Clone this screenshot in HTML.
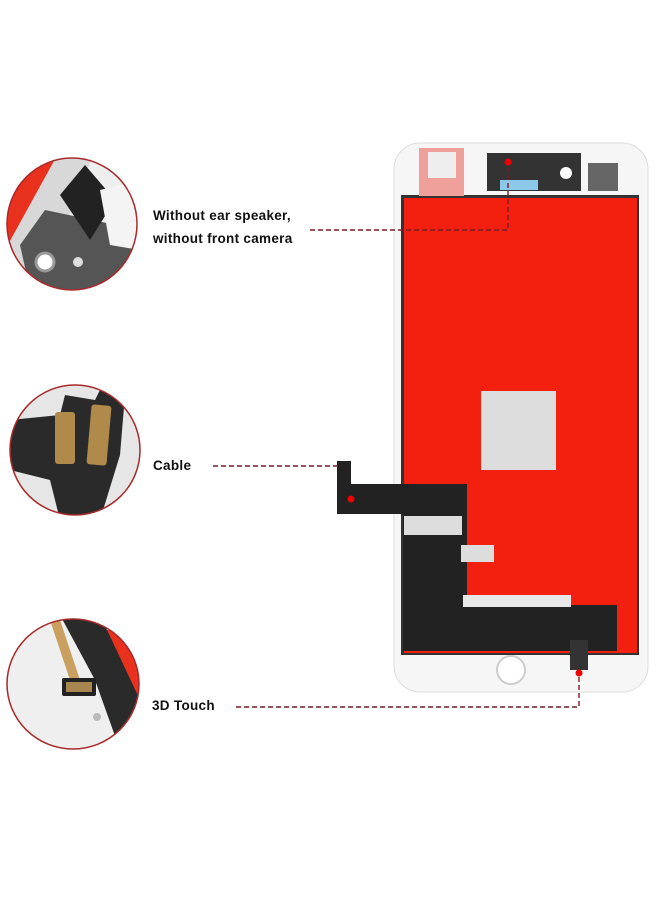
<!DOCTYPE html>
<html><head><style>
body{margin:0;width:660px;height:900px;background:#fff;position:relative;overflow:hidden;font-family:"Liberation Sans",sans-serif}
.t{position:absolute;font-size:13.5px;font-weight:bold;color:#111;letter-spacing:0.3px}
</style></head><body>
<svg width="660" height="900" style="position:absolute;left:0;top:0">
<defs>
<clipPath id="c1"><ellipse cx="72" cy="224" rx="65" ry="66"/></clipPath>
<clipPath id="c2"><ellipse cx="75" cy="450" rx="65" ry="65"/></clipPath>
<clipPath id="c3"><ellipse cx="73" cy="684" rx="66" ry="65"/></clipPath>
</defs>
<g clip-path="url(#c1)">
<rect x="0" y="150" width="150" height="150" fill="#eee"/>
<polygon points="0,150 60,150 10,250 0,250" fill="#e8321e"/>
<polygon points="60,150 95,150 40,290 5,290 5,250" fill="#d8d8d8"/>
<polygon points="20,245 45,210 140,230 140,290 30,290" fill="#555"/>
<polygon points="60,195 85,165 115,200 90,240" fill="#222"/>
<circle cx="45" cy="262" r="9" fill="#fff" stroke="#999" stroke-width="3"/>
<circle cx="78" cy="262" r="5" fill="#ddd"/>
<polygon points="100,190 140,180 140,250 110,245" fill="#f4f4f4"/>
</g>
<ellipse cx="72" cy="224" rx="65" ry="66" fill="none" stroke="#a82a2a" stroke-width="1.5"/>
<g clip-path="url(#c2)">
<rect x="0" y="380" width="150" height="140" fill="#e6e6e6"/>
<polygon points="10,420 60,415 65,395 95,400 100,390 125,395 120,455 100,520 60,520 50,480 10,470" fill="#2a2a2a"/>
<rect x="55" y="412" width="20" height="52" fill="#b08a4a" rx="3"/>
<rect x="89" y="405" width="20" height="60" fill="#b08a4a" rx="3" transform="rotate(5 99 435)"/>
</g>
<ellipse cx="75" cy="450" rx="65" ry="65" fill="none" stroke="#a82a2a" stroke-width="1.5"/>
<g clip-path="url(#c3)">
<rect x="0" y="615" width="150" height="140" fill="#efefef"/>
<polygon points="105,630 150,630 150,720 125,720" fill="#e8321e"/>
<polygon points="60,615 100,615 140,700 140,750 120,750 95,680" fill="#2a2a2a"/>
<polygon points="50,620 60,620 80,680 70,680" fill="#c9a060"/>
<rect x="62" y="678" width="34" height="18" fill="#222" rx="2"/>
<rect x="66" y="682" width="26" height="10" fill="#a88650"/>
<circle cx="97" cy="717" r="4" fill="#bbb"/>
</g>
<ellipse cx="73" cy="684" rx="66" ry="65" fill="none" stroke="#a82a2a" stroke-width="1.5"/>

<rect x="394" y="143" width="254" height="549" rx="26" fill="#f6f6f6" stroke="#ddd"/>
<rect x="401" y="195" width="238" height="460" fill="#333"/>
<rect x="404" y="198" width="233" height="455" fill="#f4200f"/>
<rect x="481" y="391" width="75" height="79" fill="#ddd"/>
<rect x="419" y="148" width="45" height="48" fill="#f0a09a"/>
<rect x="428" y="152" width="28" height="26" fill="#eee"/>
<rect x="487" y="153" width="94" height="38" fill="#333"/>
<circle cx="566" cy="173" r="6" fill="#fff"/>
<rect x="500" y="180" width="38" height="10" fill="#8cc8e8"/>
<rect x="588" y="163" width="30" height="28" fill="#666"/>
<rect x="337" y="461" width="14" height="42" fill="#222"/>
<rect x="337" y="484" width="130" height="30" fill="#222"/>
<rect x="403" y="510" width="64" height="110" fill="#222"/>
<rect x="403" y="605" width="214" height="46" fill="#222"/>
<rect x="404" y="516" width="58" height="19" fill="#ddd"/>
<rect x="461" y="545" width="33" height="17" fill="#ddd"/>
<rect x="463" y="595" width="108" height="12" fill="#e8e8e8"/>
<rect x="570" y="640" width="18" height="30" fill="#333"/>
<circle cx="511" cy="670" r="14" fill="#fff" stroke="#ccc" stroke-width="2"/>
<g stroke="#7a1c24" stroke-width="1.4" stroke-dasharray="5,3" fill="none">
<polyline points="310,230 508,230 508,162"/>
<line x1="213" y1="466" x2="342" y2="466"/>
<polyline points="236,707 579,707 579,673"/>
</g>
<circle cx="508" cy="162" r="3.5" fill="#e00"/>
<circle cx="351" cy="499" r="3.5" fill="#e00"/>
<circle cx="579" cy="673" r="3.5" fill="#e00"/>
</svg>
<div class="t" style="left:153px;top:208px">Without ear speaker,</div>
<div class="t" style="left:153px;top:231px">without front camera</div>
<div class="t" style="left:153px;top:458px">Cable</div>
<div class="t" style="left:152px;top:698px">3D Touch</div>
</body></html>
